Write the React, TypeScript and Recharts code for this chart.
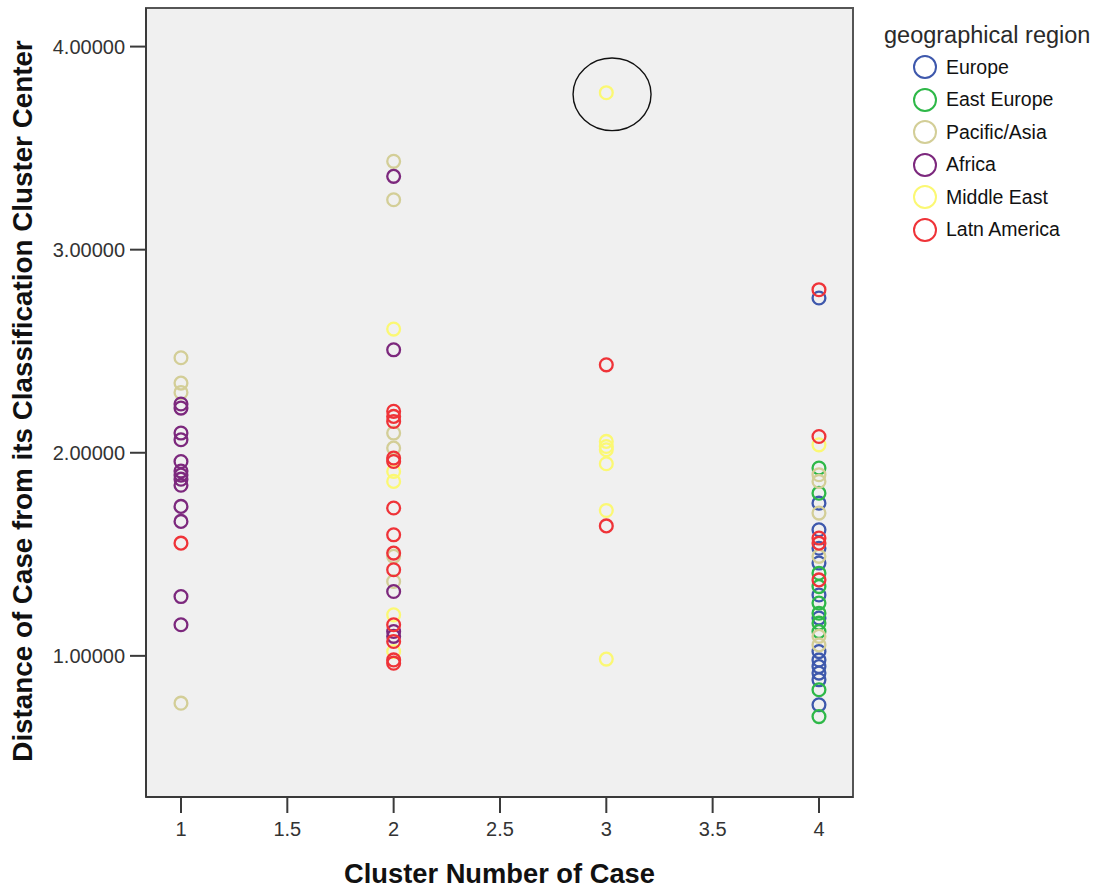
import React from 'react';
import {
  ScatterChart, Scatter, XAxis, YAxis, CartesianGrid, Legend, ReferenceDot, ReferenceArea, Label,
} from 'recharts';

// [cluster, distance]
const europe: [number, number][] = [
  [4, 2.762], [4, 1.752], [4, 1.621], [4, 1.530], [4, 1.457], [4, 1.300], [4, 1.186],
  [4, 1.021], [4, 0.980], [4, 0.947], [4, 0.915], [4, 0.882], [4, 0.759],
];
const eastEurope: [number, number][] = [
  [4, 1.925], [4, 1.801], [4, 1.407], [4, 1.341], [4, 1.260], [4, 1.210], [4, 1.161],
  [4, 1.120], [4, 0.833], [4, 0.701],
];
const pacificAsia: [number, number][] = [
  [1, 2.468], [1, 2.343], [1, 2.297], [1, 0.767],
  [2, 3.435], [2, 3.246], [2, 2.097], [2, 2.023], [2, 1.490], [2, 1.366],
  [4, 1.892], [4, 1.859], [4, 1.703], [4, 1.490], [4, 1.096], [4, 1.054],
];
const africa: [number, number][] = [
  [1, 2.240], [1, 2.220], [1, 2.097], [1, 2.064], [1, 1.957], [1, 1.910], [1, 1.890],
  [1, 1.870], [1, 1.840], [1, 1.736], [1, 1.662], [1, 1.292], [1, 1.153],
  [2, 3.361], [2, 2.507], [2, 1.317], [2, 1.120], [2, 1.096],
];
const middleEast: [number, number][] = [
  [2, 2.609], [2, 1.908], [2, 1.859], [2, 1.202], [2, 1.021],
  [3, 3.773], [3, 2.056], [3, 2.031], [3, 2.015], [3, 1.946], [3, 1.716], [3, 0.984],
  [4, 2.039],
];
const latinAmerica: [number, number][] = [
  [1, 1.555],
  [2, 2.204], [2, 2.179], [2, 2.154], [2, 1.974], [2, 1.957], [2, 1.728], [2, 1.596],
  [2, 1.506], [2, 1.424], [2, 1.153], [2, 1.071], [2, 0.980], [2, 0.964],
  [3, 2.433], [3, 1.640],
  [4, 2.803], [4, 2.080], [4, 1.580], [4, 1.555], [4, 1.374],
];

const regionNames = ['Europe', 'East Europe', 'Pacific/Asia', 'Africa', 'Middle East', 'Latn America'];
const regionColors = ['#3E58AC', '#2EB848', '#D3CE97', '#7C287D', '#FBF873', '#EF3338'];
const regionData = [europe, eastEurope, pacificAsia, africa, middleEast, latinAmerica];

const xTicks = [1, 1.5, 2, 2.5, 3, 3.5, 4];
const yTicks = [1, 2, 3, 4];
const xDomain: [number, number] = [0.8355, 4.16];
const yDomain: [number, number] = [0.305, 4.19];
const highlighted = { cluster: 3.027, distance: 3.765 };

const FONT = '"Liberation Sans", Arial, sans-serif';

const series = regionNames.map((name, i) => ({
  name,
  color: regionColors[i],
  data: regionData[i].map(([cluster, distance]) => ({ cluster, distance })),
}));

const LegendBox = () => (
  <div style={{ fontFamily: FONT, color: '#2a2a2a' }}>
    <div style={{ fontSize: 23.5, lineHeight: '26px', marginBottom: 3 }}>geographical region</div>
    {series.map((s) => (
      <div key={s.name} style={{ display: 'flex', alignItems: 'center', height: 32.5, marginLeft: 28 }}>
        <svg width={26} height={26} style={{ marginRight: 8 }}>
          <circle cx={13} cy={13} r={11} fill="none" stroke={s.color} strokeWidth={2} />
        </svg>
        <span style={{ fontSize: 19.5, color: '#111' }}>{s.name}</span>
      </div>
    ))}
  </div>
);

export default function App() {
  return (
    <div style={{ position: 'absolute', left: 0, top: 0, width: 1104, height: 892, background: '#fff' }}>
      <ScatterChart width={1104} height={892} margin={{ top: 8, right: 251, bottom: 0, left: 0 }}>
        <CartesianGrid horizontal={false} vertical={false} fill="#F0F0F0" />
        <ReferenceArea x1={xDomain[0]} x2={xDomain[1]} y1={yDomain[0]} y2={yDomain[1]} fill="none" stroke="#555" strokeWidth={2} fillOpacity={0} />
        <XAxis
          type="number"
          dataKey="cluster"
          domain={xDomain}
          ticks={xTicks}
          allowDataOverflow
          height={95}
          tickSize={16}
          tickMargin={9}
          axisLine={{ stroke: '#3a3a3a', strokeWidth: 2 }}
          tickLine={{ stroke: '#3a3a3a', strokeWidth: 2 }}
          tick={{ fontSize: 20, fill: '#333', fontFamily: FONT }}
        >
          <Label
            content={({ viewBox }: any) => (
              <text x={viewBox.x + viewBox.width / 2} y={883} textAnchor="middle" fontFamily={FONT} fontWeight="bold" fontSize={27.3} fill="#111">
                Cluster Number of Case
              </text>
            )}
          />
        </XAxis>
        <YAxis
          type="number"
          dataKey="distance"
          domain={yDomain}
          ticks={yTicks}
          allowDataOverflow
          width={146}
          tickSize={16}
          tickMargin={5}
          tickFormatter={(v: number) => v.toFixed(5)}
          axisLine={{ stroke: '#3a3a3a', strokeWidth: 2 }}
          tickLine={{ stroke: '#3a3a3a', strokeWidth: 2 }}
          tick={{ fontSize: 20, fill: '#333', fontFamily: FONT }}
        >
          <Label
            content={() => {
              const cx = 32;
              const cy = 401;
              return (
                <text x={cx} y={cy} transform={`rotate(-90, ${cx}, ${cy})`} textAnchor="middle" fontFamily={FONT} fontWeight="bold" fontSize={27.8} fill="#111">
                  Distance of Case from its Classification Cluster Center
                </text>
              );
            }}
          />
        </YAxis>
        {series.map((s) => (
          <Scatter
            key={s.name}
            name={s.name}
            data={s.data}
            isAnimationActive={false}
            shape={(p: any) => (
              <circle cx={p.cx} cy={p.cy} r={6.4} fill="none" stroke={s.color} strokeWidth={2.3} />
            )}
          />
        ))}
        <ReferenceDot
          x={highlighted.cluster}
          y={highlighted.distance}
          r={38}
          shape={(p: any) => (
            <ellipse cx={p.cx} cy={p.cy} rx={39} ry={36.3} fill="none" stroke="#111" strokeWidth={1.4} />
          )}
        />
        <Legend
          layout="horizontal"
          verticalAlign="middle"
          align="center"
          content={() => <LegendBox />}
          wrapperStyle={{ left: 884, top: 22, width: 220, height: 230 }}
        />
      </ScatterChart>
    </div>
  );
}
